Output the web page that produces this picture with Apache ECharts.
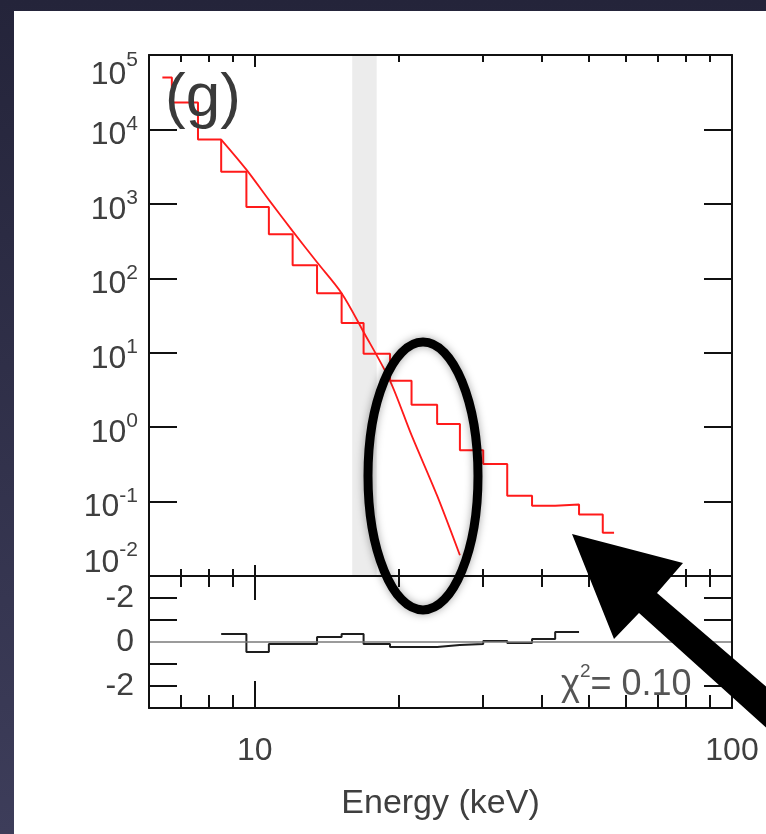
<!DOCTYPE html>
<html>
<head>
<meta charset="utf-8">
<script src="https://cdn.jsdelivr.net/npm/echarts@6/dist/echarts.min.js"></script>
<style>
html,body{margin:0;padding:0;background:#2b2b45;}
#c{width:766px;height:834px;}
</style>
</head>
<body>
<div id="c"></div>
<script>
// ---- data ----
const binEdges = [6.4, 6.7, 7.6, 8.5, 9.6, 10.7, 12.0, 13.5, 15.2, 16.9, 19.2, 21.3, 24.1, 26.9, 30.1, 33.8, 38.1, 42.6, 47.8, 53.6, 56.6];
const counts = [5.0e4, 2.3e4, 7300, 2700, 910, 390, 150, 63, 25, 9.7, 4.2, 2.0, 1.1, 0.49, 0.32, 0.12, 0.088, 0.091, 0.067, 0.038];
const modelEnergy = [8.5, 9.6, 10.7, 12.0, 13.5, 15.2, 16.9, 19.2, 21.3, 24.1, 26.9];
const modelFlux = [7300, 2880, 1130, 430, 164, 63, 19, 4.2, 0.78, 0.12, 0.019];
const residEdges = [8.5, 9.6, 10.7, 12.0, 13.5, 15.2, 16.9, 19.2, 21.3, 24.1, 26.9, 30.1, 33.8, 38.1, 42.6, 47.8];
const residuals = [0.36, -0.45, -0.09, -0.09, 0.23, 0.36, -0.09, -0.23, -0.23, -0.14, -0.09, 0.05, -0.05, 0.14, 0.45];
const band = [16, 18];
const xMajorTicks = [10];
const xMinorTicks = [7, 8, 9, 20, 30, 40, 50, 60, 70, 80, 90];
const xTickLabels = [10, 100];
const yDecades = [0.01, 0.1, 1, 10, 100, 1000, 10000, 100000];
const residTicks = [-2, -1, 1, 2];
const residTickLabels = [-2, 0, 2];
const xTitle = 'Energy (keV)';
const panelLabel = '(g)';
const chiLabel = { sym: 'χ', sup: '2', val: '= 0.10' };

// ---- build ----
const F = 'Liberation Sans, Arial, Helvetica, sans-serif';
const TXT = '#3f3f3f';
const AX = '#111';

function stepPoints(edges, vals) {
  return edges.map((e, i) => [e, vals[Math.min(i, vals.length - 1)]]);
}
const dataPts = stepPoints(binEdges, counts);
const residPts = stepPoints(residEdges, residuals);
const modelPts = modelEnergy.map((e, i) => [e, modelFlux[i]]);

const lineOn = { show: true, onZero: false, lineStyle: { color: AX, width: 2 } };
const lineOff = { show: false, onZero: false };

function xAx(gridIndex, position, ticks, len, extra) {
  return Object.assign({
    type: 'log', logBase: 10, gridIndex, position, offset: 0, min: 6, max: 100, z: 10,
    axisLine: lineOff,
    axisTick: { show: true, inside: true, length: len, customValues: ticks, lineStyle: { color: AX, width: 2 } },
    axisLabel: { show: false },
    splitLine: { show: false },
    minorTick: { show: false }
  }, extra || {});
}

const yMin = yDecades[0], yMax = yDecades[yDecades.length - 1];
function yLabel(v) {
  const n = Math.round(Math.log10(v));
  if (v >= yMax) return '{bt|10}{st|' + n + '}';
  if (v <= yMin) return '{bb|10}{sb|' + n + '}';
  return '{b|10}{s|' + n + '}';
}
const bBase = { fontSize: 32, lineHeight: 32, fontFamily: F, color: TXT };
const sBase = { fontSize: 21, lineHeight: 21, fontFamily: F, color: TXT };

const chart = echarts.init(document.getElementById('c'), null, { renderer: 'canvas' });
chart.setOption({
  backgroundColor: '#2b2b45',
  animation: false,
  grid: [
    { left: 149, right: 34, top: 55, height: 521, outerBoundsMode: 'none' },
    { left: 149, right: 34, top: 576, height: 132, outerBoundsMode: 'none' }
  ],
  xAxis: [
    xAx(0, 'bottom', xMajorTicks, 11, { axisLine: lineOn }),
    xAx(0, 'bottom', xMinorTicks, 7),
    xAx(0, 'top', xMajorTicks, 12, { axisLine: lineOn }),
    xAx(0, 'top', xMinorTicks, 7),
    xAx(1, 'bottom', xMajorTicks, 27, {
      axisLine: lineOn,
      axisLabel: { show: true, customValues: xTickLabels, margin: 27, fontSize: 32, lineHeight: 32,
        fontFamily: F, color: TXT, formatter: v => String(Math.round(v)) },
      name: xTitle, nameLocation: 'middle', nameGap: 79,
      nameTextStyle: { fontSize: 34, lineHeight: 34, fontFamily: F, color: TXT }
    }),
    xAx(1, 'bottom', xMinorTicks, 13),
    xAx(1, 'top', xMajorTicks, 24, { axisLine: lineOn }),
    xAx(1, 'top', xMinorTicks, 11)
  ],
  yAxis: [
    {
      type: 'log', logBase: 10, gridIndex: 0, position: 'left', offset: 0, min: yMin, max: yMax, z: 10,
      axisLine: lineOn,
      axisTick: { show: true, inside: true, length: 28, customValues: yDecades, lineStyle: { color: AX, width: 2 } },
      axisLabel: {
        show: true, customValues: yDecades, margin: 11,
        formatter: yLabel,
        rich: {
          b: Object.assign({}, bBase, { padding: [12, 0, 0, 0] }),
          s: Object.assign({}, sBase, { verticalAlign: 'top' }),
          bt: Object.assign({}, bBase, { padding: [40, 0, 0, 0] }),
          st: Object.assign({}, sBase, { verticalAlign: 'top', padding: [11, 0, 0, 0] }),
          bb: Object.assign({}, bBase, { padding: [12, 0, 38, 0] }),
          sb: Object.assign({}, sBase, { padding: [0, 0, 51, 0] })
        }
      },
      splitLine: { show: false }, minorTick: { show: false }
    },
    {
      type: 'log', logBase: 10, gridIndex: 0, position: 'right', offset: 0, min: yMin, max: yMax, z: 10,
      axisLine: lineOn,
      axisTick: { show: true, inside: true, length: 28, customValues: yDecades, lineStyle: { color: AX, width: 2 } },
      axisLabel: { show: false }, splitLine: { show: false }, minorTick: { show: false }
    },
    {
      type: 'value', gridIndex: 1, position: 'left', offset: 0, min: -3, max: 3, interval: 1, z: 10,
      axisLine: lineOn,
      axisTick: { show: true, inside: true, length: 28, customValues: residTicks, lineStyle: { color: AX, width: 2 } },
      axisLabel: {
        show: true, customValues: residTickLabels, margin: 15, fontSize: 32, lineHeight: 32,
        padding: [10, 0, 0, 0], fontFamily: F, color: TXT,
        formatter: v => (v === 0 ? '0' : '-2')
      },
      splitLine: { show: false }
    },
    {
      type: 'value', gridIndex: 1, position: 'right', offset: 0, min: -3, max: 3, interval: 1, z: 10,
      axisLine: lineOn,
      axisTick: { show: true, inside: true, length: 28, customValues: residTicks, lineStyle: { color: AX, width: 2 } },
      axisLabel: { show: false }, splitLine: { show: false }
    }
  ],
  series: [
    {
      name: 'data', type: 'line', xAxisIndex: 0, yAxisIndex: 0, step: 'end',
      data: dataPts, showSymbol: false, symbol: 'none', z: 3,
      lineStyle: { color: '#ff1a1a', width: 2 },
      markArea: {
        silent: true, itemStyle: { color: '#ececec' },
        data: [[{ xAxis: band[0] }, { xAxis: band[1] }]]
      }
    },
    {
      name: 'model', type: 'line', xAxisIndex: 0, yAxisIndex: 0, smooth: 0.3,
      data: modelPts, showSymbol: false, symbol: 'none', z: 3,
      lineStyle: { color: '#ff1a1a', width: 1.8 }
    },
    {
      name: 'residual', type: 'line', xAxisIndex: 4, yAxisIndex: 2, step: 'end',
      data: residPts, showSymbol: false, symbol: 'none', z: 3,
      lineStyle: { color: '#1e1e1e', width: 2 },
      markLine: {
        silent: true, symbol: 'none', label: { show: false },
        lineStyle: { color: '#7a7a7a', width: 1.5, type: 'solid' },
        data: [{ yAxis: 0 }]
      }
    }
  ],
  graphic: [
    {
      type: 'rect', z: -20, silent: true,
      shape: { x: 0, y: 0, width: 766, height: 834 },
      style: { fill: new echarts.graphic.LinearGradient(0, 0, 0, 1, [
        { offset: 0, color: '#24243a' }, { offset: 1, color: '#3d3d5a' }]) }
    },
    {
      type: 'rect', z: -10, silent: true,
      shape: { x: 14, y: 11, width: 752, height: 823 },
      style: { fill: '#ffffff' }
    },
    {
      type: 'text', z: 20, silent: true, x: 165, y: 99,
      style: { text: panelLabel, font: '62px ' + F, fill: '#3a3a3a',
        align: 'left', verticalAlign: 'middle', textAlign: 'left', textVerticalAlign: 'middle' }
    },
    {
      type: 'text', z: 20, silent: true, x: 561, y: 680,
      style: {
        text: '{c|' + chiLabel.sym + '}{s|' + chiLabel.sup + '}{e|' + chiLabel.val + '}',
        align: 'left', verticalAlign: 'middle', textAlign: 'left', textVerticalAlign: 'middle',
        rich: {
          c: { fontSize: 36, lineHeight: 36, padding: [10, 0, 0, 0], fontFamily: F, color: '#555', fill: '#555' },
          s: { fontSize: 19, lineHeight: 19, verticalAlign: 'top', fontFamily: F, color: '#555', fill: '#555' },
          e: { fontSize: 36, lineHeight: 36, padding: [10, 0, 0, 0], fontFamily: F, color: '#555', fill: '#555' }
        }
      }
    },
    {
      type: 'ellipse', z: 30, silent: true,
      shape: { cx: 423, cy: 476, rx: 55, ry: 134 },
      style: { fill: 'none', stroke: '#000', lineWidth: 9, shadowBlur: 8, shadowColor: 'rgba(0,0,0,0.35)' }
    },
    {
      type: 'polygon', z: 30, silent: true,
      shape: { points: [[572, 534], [683, 563], [657, 593], [790, 707], [790, 749], [639, 613], [614, 639]] },
      style: { fill: '#000' }
    }
  ]
});
</script>
</body>
</html>
